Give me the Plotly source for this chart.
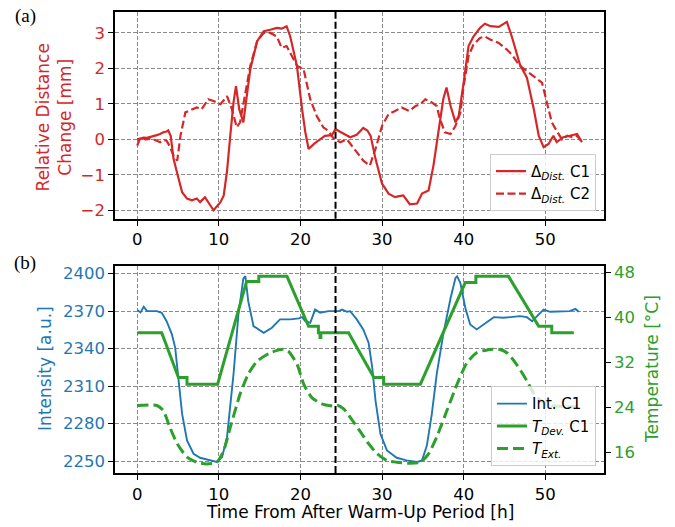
import plotly.graph_objects as go

# ---- (a) relative distance change [mm] ----
t_c1 = [0, 0.4, 0.8, 1.2, 1.6, 2.0, 2.4, 2.8, 3.2, 3.6,
        3.8, 4.1, 4.45, 5.0, 5.5, 6.1, 6.7, 7.3, 7.7, 8.3,
        8.8, 9.35, 9.8, 10.2, 10.6, 11.0, 11.4, 11.8, 12.1, 12.5,
        13.0, 13.3, 13.85, 14.7, 15.5, 16.3, 17.1, 17.7, 18.3, 18.75,
        19.57, 20.2, 20.6, 21.0, 21.7, 22.4, 23.0, 23.85, 24.3, 24.8,
        25.3, 26.1, 26.9, 27.7, 28.2, 28.6, 29.2, 30.0, 30.8, 31.6,
        32.1, 32.6, 33.4, 34.3, 34.9, 35.7, 36.3, 37.1, 37.5, 37.9,
        38.4, 39.0, 39.4, 40.0, 40.6, 41.2, 42.0, 42.6, 43.3, 44.3,
        45.3, 45.9, 46.9, 47.75, 48.6, 49.2, 49.8, 50.4, 51.0, 51.4,
        52.2, 53.0, 53.9, 54.5]
dist_c1 = [0.0, 0.03, 0.05, 0.04, 0.06, 0.1, 0.12, 0.15, 0.2, 0.22,
           0.25, 0.1, -0.55, -1.05, -1.49, -1.67, -1.72, -1.67, -1.77, -1.63,
           -1.8, -2.0, -1.88, -1.77, -1.58, -0.9, 0.1, 1.04, 1.5, 0.85,
           0.48, 1.04, 1.97, 2.77, 3.05, 3.09, 3.14, 3.12, 3.19, 2.9,
           2.07, 0.85, 0.2, -0.27, -0.12, 0.0, 0.1, 0.12, 0.29, 0.22,
           0.15, 0.06, 0.13, 0.32, 0.25, 0.1, -0.55, -1.25, -1.53, -1.63,
           -1.6, -1.58, -1.83, -1.81, -1.53, -1.44, -0.74, 0.48, 1.13, 1.46,
           0.94, 0.48, 0.66, 1.6, 2.63, 2.9, 3.14, 3.26, 3.19, 3.17,
           3.31, 2.9, 2.11, 1.74, 0.85, 0.1, -0.22, -0.13, 0.1, -0.08,
           0.06, 0.1, 0.15, -0.08]

t_c2 = [0, 0.4, 1.0, 1.6, 2.2, 2.8, 3.2, 3.6, 4.0, 4.45,
        4.9, 5.3, 5.9, 6.7, 7.3, 7.9, 8.3, 8.7, 9.35, 10.2,
        10.6, 11.0, 11.6, 12.2, 12.6, 13.2, 13.85, 14.7, 15.5, 16.3,
        17.1, 17.7, 18.3, 18.95, 19.6, 20.4, 21.2, 22.0, 22.8, 23.4,
        24.1, 24.9, 25.7, 26.3, 26.9, 27.7, 28.5, 29.2, 30.0, 30.8,
        31.6, 32.4, 33.3, 34.1, 34.7, 35.3, 36.1, 36.7, 37.1, 37.7,
        38.4, 39.0, 39.6, 40.0, 40.6, 41.2, 42.0, 42.6, 43.3, 44.3,
        45.3, 45.9, 46.9, 47.75, 48.8, 49.6, 50.2, 50.8, 51.4, 52.05,
        52.7, 53.3, 53.9, 54.5]
dist_c2 = [-0.18, 0.06, 0.0, 0.01, -0.02, -0.08, -0.02, -0.04, -0.2, -0.46,
           -0.6, 0.1, 0.76, 0.85, 0.9, 0.85, 1.0, 1.13, 1.08, 0.99,
           1.1, 1.22, 0.85, 0.34, 0.48, 1.22, 2.07, 2.77, 3.0, 3.0,
           2.9, 2.58, 2.63, 2.35, 2.07, 1.97, 1.13, 0.66, 0.34, 0.24,
           0.01, -0.08, 0.0, -0.18, -0.36, -0.6, -0.74, -0.27, 0.38, 0.71,
           0.8, 0.9, 0.8, 0.94, 0.99, 1.13, 1.04, 0.94, 0.57, 0.2,
           0.15, 0.38, 0.76, 1.5, 2.35, 2.67, 2.86, 2.9, 2.81, 2.72,
           2.53, 2.39, 2.07, 1.93, 1.74, 1.6, 1.04, 0.48, 0.24, 0.0,
           0.1, 0.06, 0.1, -0.08]

# ---- (b) intensity [a.u.] ----
t_int = [0, 0.4, 0.8, 1.2, 2.4, 3.0, 3.6, 4.25, 4.65, 5.05,
         5.5, 6.1, 6.9, 7.7, 8.75, 9.75, 10.4, 11.0, 11.8, 12.4,
         13.0, 13.25, 13.6, 14.25, 15.5, 16.5, 17.5, 18.75, 19.8, 20.2,
         20.6, 21.2, 21.8, 22.4, 23.45, 24.7, 25.1, 25.7, 26.1, 26.9,
         27.7, 28.35, 28.8, 29.2, 29.8, 30.6, 31.8, 33.0, 34.3, 34.9,
         35.5, 36.1, 36.7, 37.5, 38.4, 39.0, 39.2, 39.6, 40.2, 40.8,
         41.6, 42.4, 43.7, 44.9, 45.9, 46.9, 47.75, 48.4, 49.0, 49.8,
         50.6, 51.8, 53.0, 53.7, 54.1]
intensity = [2371, 2369, 2373.5, 2370, 2370, 2368.7, 2362, 2351.4, 2340.8, 2314,
             2287.7, 2266.4, 2255.8, 2252.6, 2251, 2249.2, 2253.2, 2269.1, 2319.6, 2367.3,
             2396, 2398, 2378, 2358, 2352.7, 2356.7, 2363.4, 2363.4, 2364.2, 2365.2,
             2362, 2360.7, 2371.3, 2368.7, 2370, 2370, 2371.3, 2369.5, 2370, 2363.4,
             2355.4, 2344.8, 2324.9, 2298.4, 2271.8, 2258.5, 2252.6, 2250.5, 2249.2, 2250.5,
             2262.5, 2287.7, 2319.6, 2351.4, 2380.6, 2396.5, 2397.9, 2392.6, 2372.7, 2359.4,
             2355.4, 2359.4, 2365.2, 2364.7, 2365.2, 2366, 2365.2, 2362, 2366, 2371.3,
             2369.5, 2370, 2370, 2371.8, 2369.5]

# ---- (b) device temperature [°C] ----
t_dev = [0, 3.0, 5.05, 6.1, 6.1, 9.85, 13.4, 14.9, 14.9, 18.35,
         21.0, 22.2, 22.2, 22.4, 22.4, 22.5, 22.5, 25.9, 29.0, 30.2,
         30.2, 34.7, 40.2, 41.5, 41.5, 45.5, 49.2, 50.8, 50.8, 53.5]
temp_dev = [37.25, 37.25, 29.3, 29.3, 28.1, 28.1, 46.4, 46.4, 47.3, 47.3,
            38.4, 38.4, 37.25, 37.25, 36.4, 36.4, 37.25, 37.25, 29.3, 29.3,
            28.1, 28.1, 46.2, 46.2, 47.3, 47.3, 38.4, 38.4, 37.25, 37.25]

# ---- (b) external temperature [°C] ----
t_ext = [0, 2.4, 3.2, 4.0, 4.9, 6.1, 7.3, 8.5, 9.75, 10.6,
         11.4, 12.6, 13.6, 14.7, 16.3, 17.9, 18.5, 19.6, 20.4, 21.4,
         22.6, 24.1, 24.6, 25.3, 26.1, 27.4, 28.35, 29.4, 30.6, 31.8,
         33.5, 34.7, 35.7, 36.7, 37.95, 39.2, 40.4, 41.6, 42.9, 44.3,
         45.3, 46.5, 47.75, 48.8, 49.8, 50.8, 52.2, 54.5]
temp_ext = [24.3, 24.3, 23.4, 20.4, 17.5, 15.1, 14.2, 13.9, 14.2, 16.3,
            20.4, 26.3, 29.9, 32.2, 33.7, 34.3, 34.0, 31.6, 28.1, 25.7,
            24.6, 24.2, 24.3, 23.7, 22.2, 19.5, 17.5, 15.7, 14.5, 14.2,
            14.0, 14.2, 15.7, 18.7, 23.4, 28.1, 31.9, 33.7, 34.2, 34.3,
            33.7, 31.6, 28.7, 26.0, 24.9, 24.3, 24.1, 24.1]

t_marker = 24.3

x_ticks = [0, 10, 20, 30, 40, 50]
dist_ticks = [-2, -1, 0, 1, 2, 3]
int_ticks = [2250, 2280, 2310, 2340, 2370, 2400]
temp_ticks = [16, 24, 32, 40, 48]

RED = "#d62728"
BLUE = "#1f77b4"
GREEN = "#2ca02c"
FONT = "DejaVu Sans"
TICK_FS = 16.5
TITLE_FS = 17
LEGEND_FS = 15

fig = go.Figure()

fig.add_trace(go.Scatter(x=t_c1, y=dist_c1, mode="lines", xaxis="x", yaxis="y",
                         line=dict(color=RED, width=2.2),
                         name="Δ<sub><i>Dist.</i></sub> C1", legend="legend"))
fig.add_trace(go.Scatter(x=t_c2, y=dist_c2, mode="lines", xaxis="x", yaxis="y",
                         line=dict(color=RED, width=2.2, dash="8px,3.5px"),
                         name="Δ<sub><i>Dist.</i></sub> C2", legend="legend"))

fig.add_trace(go.Scatter(x=t_int, y=intensity, mode="lines", xaxis="x2", yaxis="y2",
                         line=dict(color=BLUE, width=1.9),
                         name="Int. C1", legend="legend2"))
fig.add_trace(go.Scatter(x=t_dev, y=temp_dev, mode="lines", xaxis="x2", yaxis="y3",
                         line=dict(color=GREEN, width=3),
                         name="<i>T</i><sub><i>Dev.</i></sub> C1", legend="legend2"))
fig.add_trace(go.Scatter(x=t_ext, y=temp_ext, mode="lines", xaxis="x2", yaxis="y3",
                         line=dict(color=GREEN, width=3, dash="11px,5px", shape="spline",
                                   smoothing=0.6),
                         name="<i>T</i><sub><i>Ext.</i></sub>", legend="legend2"))

axis_common = dict(showline=True, linecolor="black", linewidth=1.5, mirror=True,
                   ticks="outside", ticklen=5, tickwidth=1.2, tickcolor="black",
                   zeroline=False, gridcolor="#8a8a8a", griddash="4px,2px", gridwidth=1)

x_range = [-2.725, 57.2]

legend_common = dict(xanchor="right", yanchor="bottom",
                     bgcolor="rgba(255,255,255,0.8)", bordercolor="#cccccc",
                     borderwidth=1, font=dict(family=FONT, size=LEGEND_FS, color="black"),
                     tracegroupgap=0, itemwidth=30)

fig.update_layout(
    width=675, height=527,
    margin=dict(l=115, r=71, t=9, b=54.3),
    paper_bgcolor="white", plot_bgcolor="white",
    font=dict(family=FONT, size=TICK_FS, color="black"),
    xaxis=dict(domain=[0, 1], anchor="y", range=x_range, tickvals=x_ticks,
               tickfont=dict(color="black", size=TICK_FS), showgrid=True, **axis_common),
    yaxis=dict(domain=[0.5514, 1], anchor="x", range=[-2.24, 3.59], tickvals=dist_ticks,
               tickfont=dict(color=RED, size=TICK_FS), showgrid=True, **axis_common),
    xaxis2=dict(domain=[0, 1], anchor="y2", range=x_range, tickvals=x_ticks,
                tickfont=dict(color="black", size=TICK_FS), showgrid=True, **axis_common),
    yaxis2=dict(domain=[0, 0.448], anchor="x2", range=[2240.4, 2405.8], tickvals=int_ticks,
                tickfont=dict(color=BLUE, size=TICK_FS), showgrid=True, **axis_common),
    yaxis3=dict(overlaying="y2", anchor="x2", side="right", range=[12.28, 49.06],
                tickvals=temp_ticks, tickfont=dict(color=GREEN, size=TICK_FS), showgrid=False,
                showline=True, linecolor="black", linewidth=1.5, ticks="outside",
                ticklen=5, tickwidth=1.2, tickcolor="black", zeroline=False),
    legend=dict(x=0.9836, y=0.5687, **legend_common),
    legend2=dict(x=0.9836, y=0.0144, **legend_common),
    showlegend=True,
)

for xr, yr in (("x", "y domain"), ("x2", "y2 domain")):
    fig.add_shape(type="line", xref=xr, yref=yr, x0=t_marker, x1=t_marker, y0=0, y1=1,
                  line=dict(color="black", width=2, dash="7px,3px"))

ann = []
ann.append(dict(text="Relative Distance<br>Change [mm]", x=(54 - 115) / 489,
                y=(472.7 - 115) / 463.7,
                xref="paper", yref="paper", textangle=-90, showarrow=False,
                font=dict(family=FONT, size=TITLE_FS, color=RED),
                xanchor="center", yanchor="middle"))
ann.append(dict(text="Intensity [a.u.]", x=(45 - 115) / 489, y=(472.7 - 368) / 463.7,
                xref="paper", yref="paper", textangle=-90, showarrow=False,
                font=dict(family=FONT, size=TITLE_FS, color=BLUE),
                xanchor="center", yanchor="middle"))
ann.append(dict(text="Temperature [°C]", x=(652 - 115) / 489, y=(472.7 - 368) / 463.7,
                xref="paper", yref="paper", textangle=-90, showarrow=False,
                font=dict(family=FONT, size=TITLE_FS, color=GREEN),
                xanchor="center", yanchor="middle"))
ann.append(dict(text="Time From After Warm-Up Period [h]", x=0.5, y=(472.7 - 512) / 463.7,
                xref="paper", yref="paper", showarrow=False,
                font=dict(family=FONT, size=TITLE_FS, color="black"),
                xanchor="center", yanchor="middle"))
ann.append(dict(text="(a)", x=(25 - 115) / 489, y=(472.7 - 13) / 463.7,
                xref="paper", yref="paper", showarrow=False,
                font=dict(family="Liberation Serif", size=19, color="black"),
                xanchor="center", yanchor="middle"))
ann.append(dict(text="(b)", x=(25 - 115) / 489, y=(472.7 - 261) / 463.7,
                xref="paper", yref="paper", showarrow=False,
                font=dict(family="Liberation Serif", size=19, color="black"),
                xanchor="center", yanchor="middle"))
fig.update_layout(annotations=ann)

fig.write_html("out.html")
